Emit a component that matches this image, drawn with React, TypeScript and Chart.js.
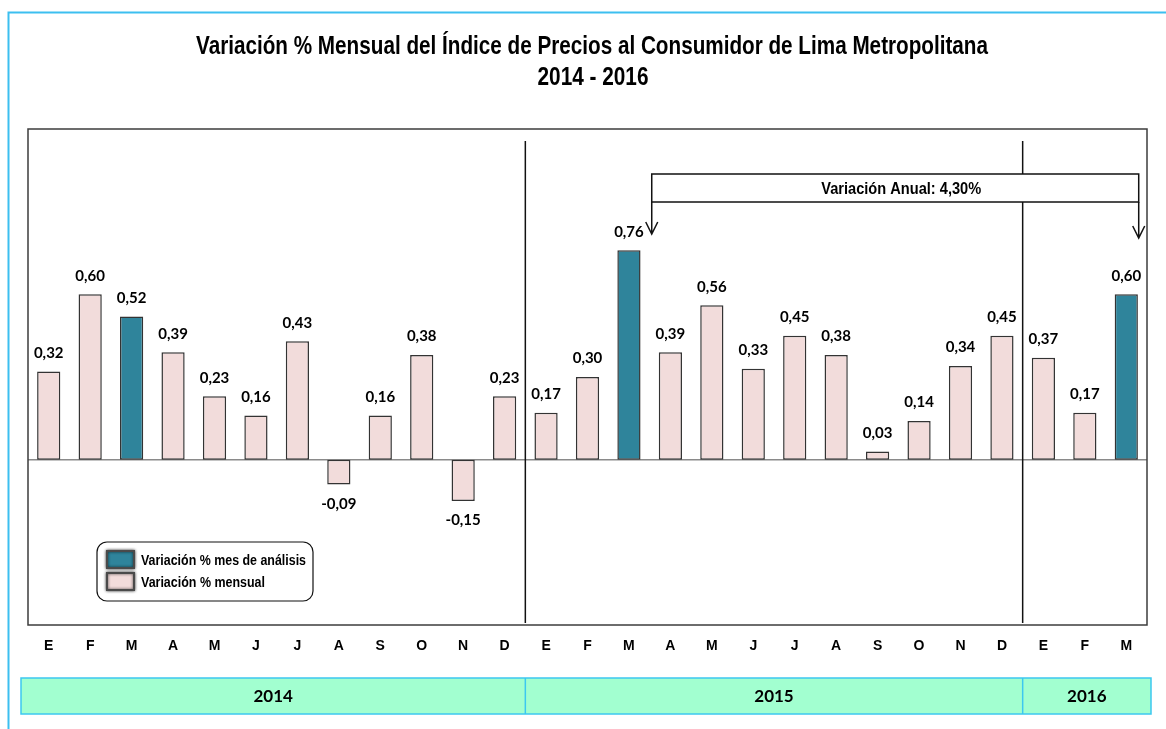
import React, { useEffect, useRef } from "react";
import { Chart, registerables } from "chart.js";
Chart.register(...registerables);

const monthLabels = ["E","F","M","A","M","J","J","A","S","O","N","D","E","F","M","A","M","J","J","A","S","O","N","D","E","F","M"];
const values2014 = [0.32, 0.60, 0.52, 0.39, 0.23, 0.16, 0.43, -0.09, 0.16, 0.38, -0.15, 0.23];
const values2015 = [0.17, 0.30, 0.76, 0.39, 0.56, 0.33, 0.45, 0.38, 0.03, 0.14, 0.34, 0.45];
const values2016 = [0.37, 0.17, 0.60];
const analysisMonths = [2, 14, 26];
const years = ["2014", "2015", "2016"];
const yearSpans = [12, 12, 3];
const titleLines = ["Variación % Mensual del Índice de Precios al Consumidor de Lima Metropolitana", "2014 - 2016"];
const annualText = "Variación Anual: 4,30%";
const annualFrom = 14;
const annualTo = 26;
const legendLabels = ["Variación % mes de análisis", "Variación % mensual"];

const values = [...values2014, ...values2015, ...values2016];

const TEAL = "#2f849b";
const PINK = "#f2dcdb";
const NARROW = '"Liberation Sans Narrow", "Arial Narrow", "Liberation Sans", Arial, sans-serif';
const ARIAL = '"Liberation Sans", Arial, sans-serif';
const LATO = 'Lato, "Open Sans", sans-serif';

const fmt = (v: number) => v.toFixed(2).replace(".", ",");

const decor = {
  id: "decor",
  beforeDraw(chart: any) {
    const ctx = chart.ctx as CanvasRenderingContext2D;
    ctx.save();
    ctx.strokeStyle = "#3cbff0";
    ctx.lineWidth = 2;
    ctx.beginPath();
    ctx.moveTo(8.5, 729);
    ctx.lineTo(8.5, 12.5);
    ctx.lineTo(1166, 12.5);
    ctx.stroke();
    ctx.fillStyle = "#000";
    ctx.textAlign = "center";
    ctx.textBaseline = "middle";
    ctx.font = `bold 26px ${NARROW}`;
    ctx.fillText(titleLines[0], 592, 47, 792);
    ctx.fillText(titleLines[1], 593, 78, 111);
    ctx.restore();
  },
  beforeDatasetsDraw(chart: any) {
    const ctx = chart.ctx as CanvasRenderingContext2D;
    const { left, right } = chart.chartArea;
    const y0 = chart.scales.y.getPixelForValue(0);
    ctx.save();
    ctx.strokeStyle = "#8a8a8a";
    ctx.lineWidth = 1.5;
    ctx.beginPath();
    ctx.moveTo(left, y0);
    ctx.lineTo(right, y0);
    ctx.stroke();
    ctx.restore();
  },
  afterDatasetsDraw(chart: any) {
    const ctx = chart.ctx as CanvasRenderingContext2D;
    const { left, right, top, bottom } = chart.chartArea;
    const xs = chart.scales.x;
    const catW = xs.getPixelForValue(1) - xs.getPixelForValue(0);
    const boundary = (i: number) => xs.getPixelForValue(i) + catW / 2;
    ctx.save();

    // plot border
    ctx.strokeStyle = "#3c3c3c";
    ctx.lineWidth = 1.5;
    ctx.strokeRect(left, top, right - left, bottom - top);

    // year separators
    ctx.strokeStyle = "#111";
    ctx.lineWidth = 1.5;
    let acc = 0;
    for (let k = 0; k < yearSpans.length - 1; k++) {
      acc += yearSpans[k];
      const bx = boundary(acc - 1);
      ctx.beginPath();
      ctx.moveTo(bx, top + 12);
      ctx.lineTo(bx, bottom - 2);
      ctx.stroke();
    }

    // value labels
    const meta = chart.getDatasetMeta(0);
    ctx.fillStyle = "#000";
    ctx.textAlign = "center";
    ctx.textBaseline = "middle";
    ctx.font = `bold 15px ${LATO}`;
    meta.data.forEach((el: any, i: number) => {
      const v = values[i];
      const ly = v >= 0 ? el.y - 18.5 : el.y + 19.5;
      ctx.fillText(fmt(v), el.x, ly);
    });

    // annual variation annotation
    const ax1 = xs.getPixelForValue(annualFrom) + 0.55 * catW;
    const ax2 = xs.getPixelForValue(annualTo) + 0.3 * catW;
    const by1 = top + 45;
    const by2 = top + 73;
    ctx.fillStyle = "#fff";
    ctx.fillRect(ax1, by1, ax2 - ax1, by2 - by1);
    ctx.strokeStyle = "#111";
    ctx.lineWidth = 1.5;
    ctx.strokeRect(ax1, by1, ax2 - ax1, by2 - by1);
    const arrow = (x: number, tip: number) => {
      ctx.beginPath();
      ctx.moveTo(x, by2);
      ctx.lineTo(x, tip);
      ctx.moveTo(x - 6, tip - 12);
      ctx.lineTo(x, tip);
      ctx.lineTo(x + 6, tip - 12);
      ctx.stroke();
    };
    arrow(ax1, top + 105);
    arrow(ax2, top + 109);
    ctx.fillStyle = "#000";
    ctx.font = `bold 17px ${NARROW}`;
    ctx.fillText(annualText, (ax1 + ax2) / 2 + 6, (by1 + by2) / 2 + 1, 160);

    // legend
    const lx = 97, ly = 542, lw = 216, lh = 59;
    ctx.fillStyle = "#fff";
    ctx.strokeStyle = "#111";
    ctx.lineWidth = 1.2;
    ctx.beginPath();
    (ctx as any).roundRect(lx, ly, lw, lh, 10);
    ctx.fill();
    ctx.stroke();
    const sw = [TEAL, PINK];
    const widths = [165, 124];
    for (let k = 0; k < 2; k++) {
      const sy = 551 + k * 22;
      ctx.save();
      ctx.shadowColor = "rgba(0,0,0,0.7)";
      ctx.shadowBlur = 3;
      ctx.fillStyle = sw[k];
      ctx.fillRect(107, sy, 27, 17);
      ctx.strokeStyle = "#4a4a4a";
      ctx.lineWidth = 2;
      ctx.strokeRect(107, sy, 27, 17);
      ctx.restore();
      ctx.fillStyle = "#000";
      ctx.textAlign = "left";
      ctx.font = `bold 15px ${NARROW}`;
      ctx.fillText(legendLabels[k], 141, sy + 10, widths[k]);
    }

    // year bar
    const yb1 = 678, yb2 = 714;
    const ybl = left - 7, ybr = right + 4;
    ctx.fillStyle = "#a2ffd0";
    ctx.fillRect(ybl, yb1, ybr - ybl, yb2 - yb1);
    ctx.strokeStyle = "#3cc8f0";
    ctx.lineWidth = 1.5;
    ctx.strokeRect(ybl, yb1, ybr - ybl, yb2 - yb1);
    let start = 0;
    ctx.fillStyle = "#000";
    ctx.textAlign = "center";
    ctx.font = `bold 17px ${LATO}`;
    for (let k = 0; k < years.length; k++) {
      const end = start + yearSpans[k];
      const x1 = k === 0 ? ybl : boundary(start - 1);
      const x2 = k === years.length - 1 ? ybr : boundary(end - 1);
      if (k > 0) {
        ctx.beginPath();
        ctx.moveTo(x1, yb1);
        ctx.lineTo(x1, yb2);
        ctx.stroke();
      }
      ctx.fillText(years[k], (x1 + x2) / 2, (yb1 + yb2) / 2 + 1);
      start = end;
    }
    ctx.restore();
  },
};

export default function App() {
  const ref = useRef<HTMLCanvasElement | null>(null);
  useEffect(() => {
    if (!ref.current) return;
    const chart = new Chart(ref.current, {
      type: "bar",
      data: {
        labels: monthLabels,
        datasets: [
          {
            data: values,
            backgroundColor: values.map((_, i) => (analysisMonths.includes(i) ? TEAL : PINK)),
            borderColor: "#333",
            borderWidth: 1.5,
            borderSkipped: false,
            barPercentage: 0.56,
            categoryPercentage: 1,
          },
        ],
      },
      options: {
        responsive: false,
        animation: false,
        devicePixelRatio: 1,
        layout: { padding: { left: 28, right: 19, top: 129, bottom: 0 } },
        plugins: { legend: { display: false }, tooltip: { enabled: false }, title: { display: false } },
        scales: {
          x: {
            grid: { display: false, drawTicks: false },
            border: { display: false },
            ticks: {
              color: "#000",
              font: { family: ARIAL, size: 14, weight: "bold" },
              padding: 13,
              autoSkip: false,
              maxRotation: 0,
            },
            afterFit: (s: any) => {
              s.height = 104;
            },
          },
          y: { display: false, min: -0.6, max: 1.2 },
        },
      } as any,
      plugins: [decor],
    });
    return () => chart.destroy();
  }, []);
  return (
    <div style={{ position: "absolute", left: 0, top: 0, width: 1166, height: 729, background: "#fff" }}>
      <canvas ref={ref} width={1166} height={729} style={{ display: "block" }} />
    </div>
  );
}
